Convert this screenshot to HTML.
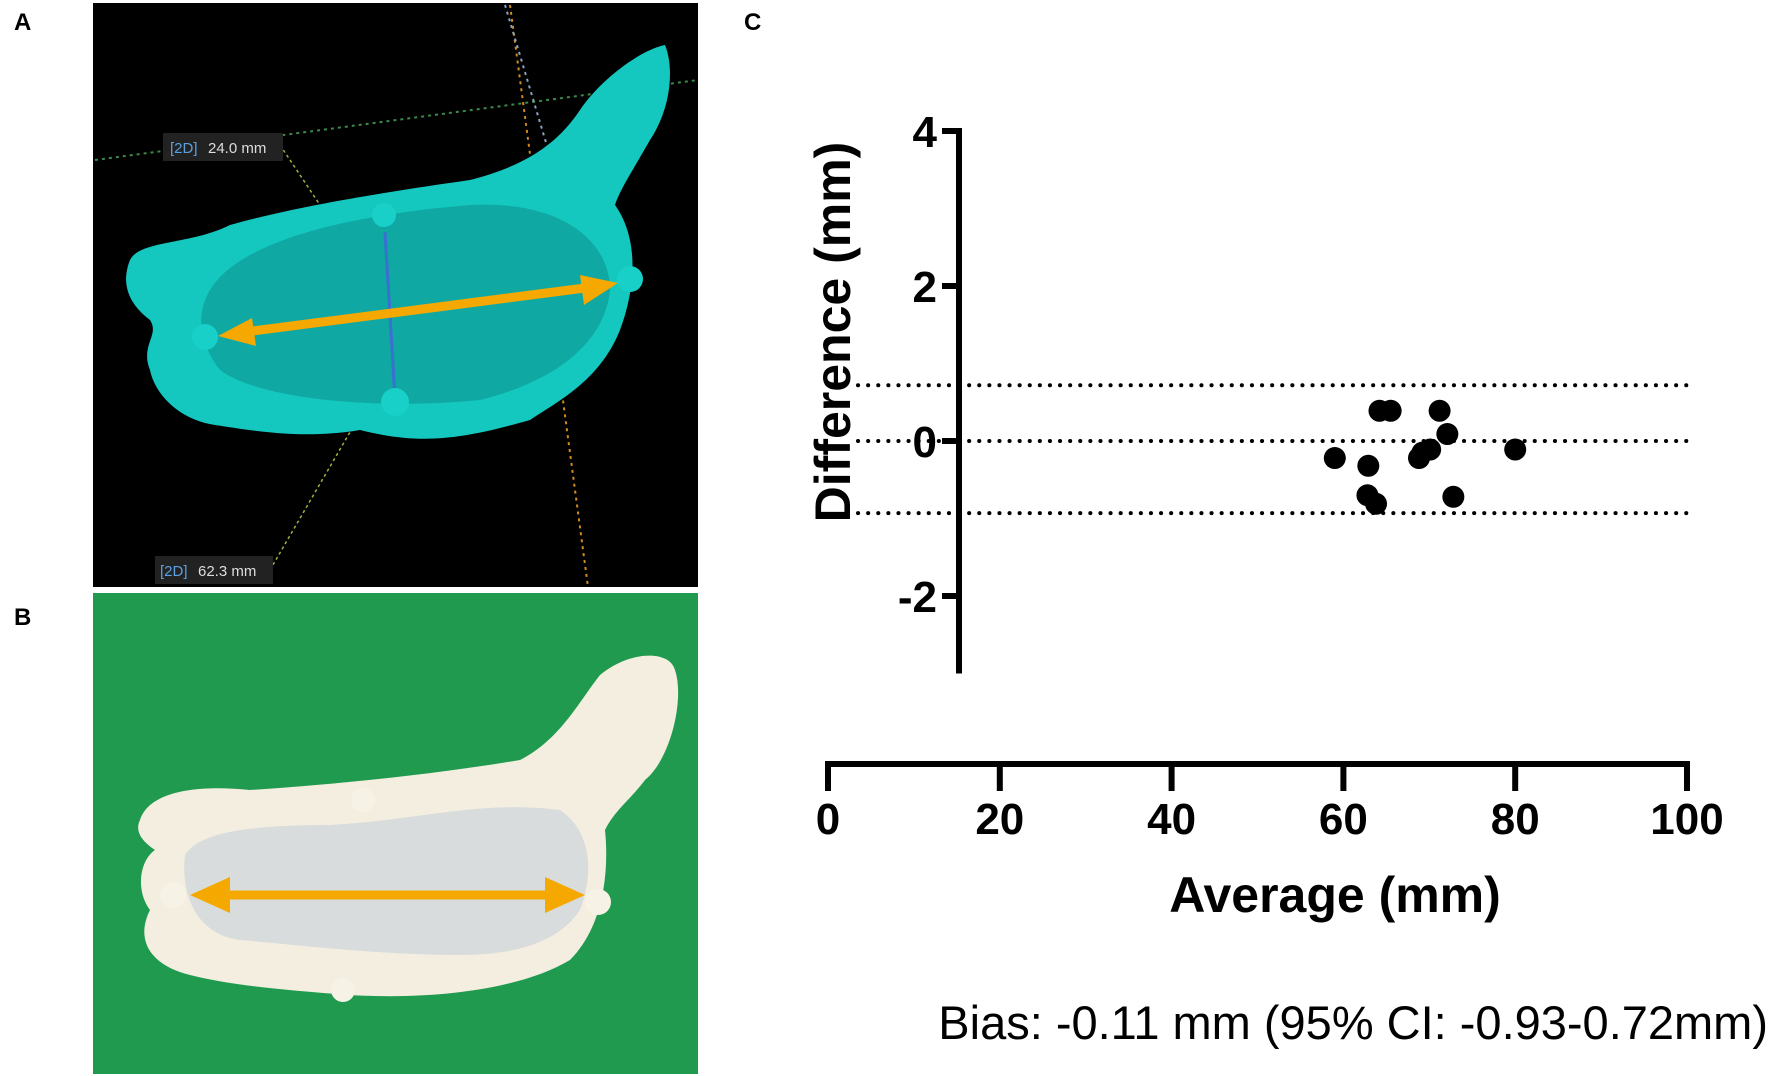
<!DOCTYPE html>
<html><head><meta charset="utf-8"><style>
html,body{margin:0;padding:0;background:#fff;}
svg{display:block;font-family:"Liberation Sans",Arial,sans-serif;}
</style></head><body>
<svg id="fig" width="1772" height="1076" viewBox="0 0 1772 1076">
<text x="14" y="30" font-size="24" font-weight="bold">A</text>
<text x="14" y="625" font-size="24" font-weight="bold">B</text>
<text x="744" y="30" font-size="24" font-weight="bold">C</text>

<g>
<rect x="93" y="3" width="605" height="584" fill="#000"/>
<line x1="95" y1="160" x2="698" y2="80" stroke="#3a8a4a" stroke-width="2" stroke-dasharray="3,4"/>
<line x1="510" y1="5" x2="588" y2="587" stroke="#d08a20" stroke-width="2" stroke-dasharray="3,4"/>
<line x1="505" y1="5" x2="578" y2="250" stroke="#8aa0c0" stroke-width="2" stroke-dasharray="3,4"/>
<line x1="280" y1="145" x2="390" y2="310" stroke="#a0b040" stroke-width="1.5" stroke-dasharray="3,3"/>
<line x1="270" y1="570" x2="415" y2="320" stroke="#a0b040" stroke-width="1.5" stroke-dasharray="3,3"/>
<path d="M130,260 C140,240 190,245 230,225 C300,205 400,190 470,180 C530,165 560,140 580,110 C600,80 640,50 665,45 C675,70 670,110 650,140 C630,175 620,190 615,205 C640,240 635,290 620,330 C600,380 560,400 530,420 C460,440 420,445 360,430 C300,440 250,430 215,425 C180,420 155,395 150,370 C140,345 160,335 150,320 C130,305 120,285 130,260 Z" fill="#14c8c0"/>
<path d="M210,290 C240,240 350,215 470,205 C560,200 610,240 610,290 C605,340 560,380 480,400 C380,410 260,400 220,370 C200,345 195,315 210,290 Z" fill="#0fa8a2"/>
<rect x="163" y="133" width="120" height="28" fill="#222"/>
<text x="170" y="153" font-size="15" fill="#5aa0e0">[2D]</text><text x="208" y="153" font-size="15" fill="#ddd">24.0 mm</text>
<rect x="155" y="556" width="118" height="28" fill="#222"/>
<text x="160" y="576" font-size="15" fill="#5aa0e0">[2D]</text><text x="198" y="576" font-size="15" fill="#ddd">62.3 mm</text>
<line x1="385" y1="232" x2="395" y2="398" stroke="#3a70d0" stroke-width="3"/>
<circle cx="384" cy="215" r="12" fill="#18d0c8"/><circle cx="395" cy="402" r="14" fill="#18d0c8"/>
<circle cx="205" cy="337" r="13" fill="#18d0c8"/><circle cx="630" cy="279" r="13" fill="#18d0c8"/>
<line x1="245" y1="332" x2="585" y2="288" stroke="#f5a800" stroke-width="9"/>
<polygon points="218,336 252,318 256,346" fill="#f5a800"/>
<polygon points="618,283 580,275 584,305" fill="#f5a800"/>
</g>

<g>
<rect x="93" y="593" width="605" height="481" fill="#1f9a4e"/>
<path d="M140,820 C150,790 200,785 250,790 C330,785 430,775 520,760 C560,740 580,700 600,675 C630,650 670,650 675,670 C685,700 670,760 645,780 C630,800 615,810 605,830 C610,880 600,930 570,960 C520,990 430,1000 350,995 C280,990 230,985 190,975 C150,965 135,940 150,910 C135,890 140,860 155,850 C140,840 135,830 140,820 Z" fill="#f3eee0"/>
<path d="M185,855 C200,830 260,825 330,825 C420,820 480,800 560,810 C590,830 595,870 580,910 C560,940 520,955 460,955 C380,955 300,945 240,940 C200,935 180,900 185,855 Z" fill="#d8dcdc"/>
<circle cx="173" cy="895" r="13" fill="#f6f2e6"/><circle cx="598" cy="902" r="13" fill="#f6f2e6"/>
<circle cx="363" cy="800" r="12" fill="#f6f2e6"/><circle cx="343" cy="990" r="12" fill="#f6f2e6"/>
<line x1="215" y1="895" x2="560" y2="895" stroke="#f5a800" stroke-width="9"/>
<polygon points="190,895 230,877 230,913" fill="#f5a800"/>
<polygon points="585,895 545,877 545,913" fill="#f5a800"/>
</g>

<g id="chart"></g>
<text x="1768" y="1039" font-size="47" text-anchor="end">Bias: -0.11 mm (95% CI: -0.93-0.72mm)</text>
</svg>
<script>
const xVals = [59.0, 62.9, 62.8, 63.8, 64.2, 65.5, 68.8, 69.2, 70.1, 71.2, 72.1, 72.8, 80.0];
const yVals = [-0.22, -0.32, -0.70, -0.81, 0.39, 0.39, -0.22, -0.15, -0.11, 0.39, 0.09, -0.72, -0.11];
const yTicks = [4, 2, 0, -2];
const yTickLabels = ["4", "2", "0", "-2"];
const xTicks = [0, 20, 40, 60, 80, 100];
const xTickLabels = ["0", "20", "40", "60", "80", "100"];
const refLines = [0.72, 0, -0.93];

const NS = "http://www.w3.org/2000/svg";
const g = document.getElementById("chart");
function X(v){ return 828 + v * 8.59; }
function Y(v){ return 441 - v * 77.5; }
const XA = 764;
function mk(tag, attrs){
  const e = document.createElementNS(NS, tag);
  for (const k in attrs) e.setAttribute(k, attrs[k]);
  g.appendChild(e);
  return e;
}
refLines.forEach((v) => {
  const l = mk("line", {x1: 858, x2: 1687, y1: Y(v), y2: Y(v), stroke: "#000", "stroke-width": 4, "stroke-dasharray": "0.1,10", "stroke-linecap": "round"});
  
  
});
const ya = mk("line", {x1: 959, x2: 959, y1: Y(4) - 3, y2: Y(-3), stroke: "#000", "stroke-width": 6});


yTicks.forEach((v, i) => {
  const t = mk("line", {x1: 942, x2: 959, y1: Y(v), y2: Y(v), stroke: "#000", "stroke-width": 6});
  
  
  const tx = mk("text", {x: 937, y: Y(v) + 16, "font-size": 44, "font-weight": "bold", "text-anchor": "end"});
  tx.textContent = yTickLabels[i];
  
  
});
const yt = mk("text", {x: 0, y: 0, "font-size": 50, "font-weight": "bold", "text-anchor": "middle", transform: "translate(850,332) rotate(-90)"});
yt.textContent = "Difference (mm)";


const xa = mk("line", {x1: X(0) - 3, x2: X(100) + 3, y1: XA, y2: XA, stroke: "#000", "stroke-width": 6});


xTicks.forEach((v, i) => {
  const t = mk("line", {x1: X(v), x2: X(v), y1: XA, y2: XA + 27, stroke: "#000", "stroke-width": 6});
  
  
  const tx = mk("text", {x: X(v), y: 834, "font-size": 44, "font-weight": "bold", "text-anchor": "middle"});
  tx.textContent = xTickLabels[i];
  
  
});
const xt = mk("text", {x: 1335, y: 912, "font-size": 50, "font-weight": "bold", "text-anchor": "middle"});
xt.textContent = "Average (mm)";


xVals.forEach((xv, i) => {
  const c = mk("circle", {cx: X(xv), cy: Y(yVals[i]), r: 11, fill: "#000"});
  
  
});
</script>
</body></html>
